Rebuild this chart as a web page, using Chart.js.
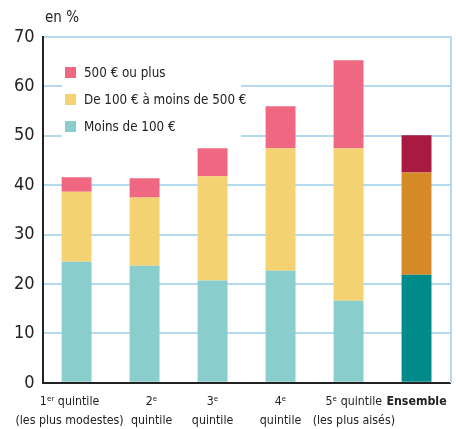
<!DOCTYPE html>
<html>
<head>
<meta charset="utf-8">
<script src="https://cdn.jsdelivr.net/npm/chart.js@4"></script>
<style>
  html, body { margin: 0; padding: 0; background: #fff; }
  #wrap { position: relative; width: 456px; height: 429px; }
  #unit { position: absolute; left: 45px; top: 8px; font: 15px "DejaVu Sans Condensed", "Liberation Sans", sans-serif; color: #222; }
  #legend { position: absolute; left: 62px; top: 60px; width: 179px; height: 80px; background: #fff;
            font: 13.3px "DejaVu Sans Condensed", "Liberation Sans", sans-serif; color: #222; white-space: nowrap; }
  #legend div { position: absolute; left: 3px; height: 16px; line-height: 16px; }
  #legend span { display: inline-block; width: 11px; height: 11px; margin-right: 8px; vertical-align: -1px; }
</style>
</head>
<body>
<div id="wrap">
  <canvas id="chart" width="456" height="429"></canvas>
  <div id="unit">en %</div>
  <div id="legend"></div>
</div>
<script>
document.addEventListener("DOMContentLoaded", () => {

    const sp = "\u00a0\u00a0\u00a0\u00a0";
    const categories = [
        ["1ᵉʳ quintile" + sp, "(les plus modestes)" + sp],
        [sp + "2ᵉ", sp + "quintile"],
        ["3ᵉ", "quintile"],
        ["4ᵉ", "quintile"],
        ["\u00a0\u00a0\u00a05ᵉ quintile", "\u00a0\u00a0\u00a0(les plus aisés)"],
        "Ensemble"
    ];
    const seriesNames = ["Moins de 100 €", "De 100 € à moins de 500 €", "500 € ou plus"];
    const lowValues = [24.5, 23.7, 20.7, 22.7, 16.6, 21.9];
    const midValues = [14.2, 13.8, 21.1, 24.8, 30.9, 20.7];
    const highValues = [2.9, 3.9, 5.7, 8.5, 17.8, 7.5];

    const fam = "'DejaVu Sans Condensed', 'Liberation Sans', sans-serif";
    const gridBlue = "#b3daf0";
    const baseColors = ["#89cdcd", "#f4d271", "#ef6781"];
    const totalColors = ["#008a8a", "#d68a27", "#a81a42"];

    function colorsFor(i) {
        return categories.map((c, k) => k === categories.length - 1 ? totalColors[i] : baseColors[i]);
    }

    const data = {
        labels: categories,
        datasets: [lowValues, midValues, highValues].map((vals, i) => ({
            label: seriesNames[i],
            data: vals,
            backgroundColor: colorsFor(i),
            borderWidth: 0,
            barPercentage: 0.44,
            categoryPercentage: 1
        }))
    };

    new Chart(document.getElementById("chart"), {
        type: "bar",
        data: data,
        options: {
            responsive: false,
            animation: false,
            layout: { padding: { top: 37, right: 4, left: 6, bottom: -10 } },
            plugins: { legend: { display: false }, tooltip: { enabled: false } },
            scales: {
                x: {
                    stacked: true,
                    grid: { display: false, drawTicks: false },
                    border: { color: "#222", width: 2 },
                    ticks: {
                        color: "#222",
                        padding: 9,
                        autoSkip: false,
                        maxRotation: 0,
                        font: ctx => ({
                            family: fam,
                            size: 12.3,
                            weight: ctx.index === categories.length - 1 ? "bold" : "normal",
                            lineHeight: 1.55
                        })
                    }
                },
                y: {
                    stacked: true,
                    min: 0,
                    max: 70,
                    grid: { color: gridBlue, lineWidth: 2, drawTicks: false },
                    border: { color: "#222", width: 2 },
                    ticks: {
                        stepSize: 10,
                        color: "#222",
                        padding: 8,
                        font: { family: fam, size: 18 }
                    }
                },
                y2: {
                    position: "right",
                    min: 0,
                    max: 70,
                    grid: { display: false, drawTicks: false },
                    border: { color: gridBlue, width: 2 },
                    ticks: { display: false }
                }
            }
        }
    });

    // legend, top entry first
    const legend = document.getElementById("legend");
    [2, 1, 0].forEach((i, row) => {
        const item = document.createElement("div");
        item.style.top = (5 + row * 27) + "px";
        item.innerHTML = `<span style="background:${baseColors[i]}"></span>${seriesNames[i]}`;
        legend.appendChild(item);
    });
});
</script>
</body>
</html>
